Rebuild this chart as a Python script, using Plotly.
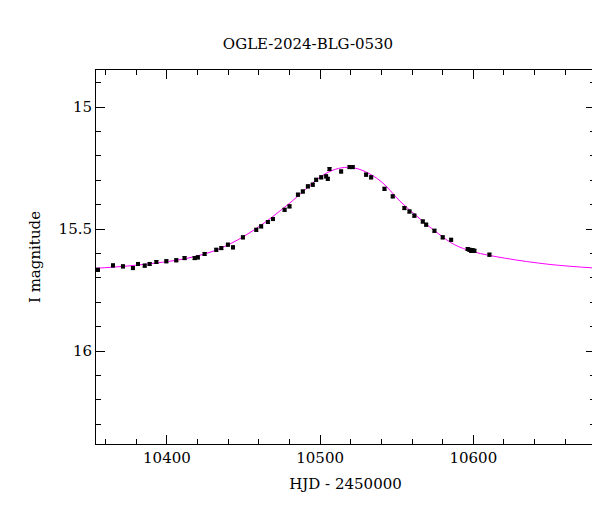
import plotly.graph_objects as go

hjd = [10355.0,10364.8,10371.3,10377.8,10381.1,10385.5,10388.7,10393.1,10399.6,10406.1,10411.5,10418.1,
       10420.2,10424.6,10432.2,10435.5,10439.8,10443.1,10449.6,10458.3,10461.5,10465.9,10469.2,10476.8,
       10480.0,10485.5,10488.7,10492.0,10495.2,10497.4,10500.7,10503.9,10505.0,10506.1,10513.7,10519.2,
       10521.3,10530.0,10533.3,10542.0,10547.4,10555.0,10558.3,10561.5,10567.0,10569.2,10574.6,10580.0,
       10585.5,10596.3,10597.5,10598.5,10599.5,10600.7,10610.5]
mag = [15.667,15.649,15.653,15.660,15.643,15.650,15.643,15.635,15.632,15.628,15.619,15.619,
       15.616,15.602,15.585,15.578,15.564,15.575,15.534,15.503,15.489,15.471,15.459,15.421,
       15.407,15.359,15.346,15.325,15.318,15.298,15.288,15.284,15.294,15.254,15.264,15.246,
       15.246,15.277,15.288,15.335,15.366,15.414,15.428,15.445,15.469,15.482,15.507,15.534,
       15.544,15.582,15.585,15.589,15.587,15.589,15.605]
model_hjd = [10350,10380,10413.7,10435.4,10457,10478.9,10490,10500.6,10510,10518,10527,10539.8,10552,10565.9,10577,10587.7,10600,10620.3,10650,10680]
model_mag = [15.662,15.648,15.619,15.578,15.503,15.40,15.340,15.284,15.255,15.247,15.258,15.305,15.385,15.462,15.518,15.564,15.593,15.619,15.645,15.660]
x_ticks = [10400, 10500, 10600]
y_ticks = [15, 15.5, 16]
y_ticklabels = ["15", "15.5", "16"]

font = "DejaVu Serif"
fig = go.Figure()
fig.add_trace(go.Scatter(x=model_hjd, y=model_mag, mode="lines", line=dict(color="magenta", width=1, shape="spline"), hoverinfo="skip"))
fig.add_trace(go.Scatter(x=hjd, y=mag, mode="markers",
                         marker=dict(symbol="square", size=4, color="black"),
                         error_y=dict(type="constant", value=0.006, color="black", thickness=1, width=2)))
axis_common = dict(showgrid=False, zeroline=False, showline=True, linecolor="black", linewidth=1, mirror="ticks",
                   ticks="inside", ticklen=9, tickcolor="black", automargin=False,
                   tickfont=dict(family=font, size=15, color="black"))
fig.update_xaxes(range=[10353.7, 10679.4], tickvals=x_ticks, ticktext=[str(v) for v in x_ticks],
                 minor=dict(ticks="inside", ticklen=5, dtick=20, tick0=0, tickcolor="black"),
                 title=dict(text="HJD - 2450000", standoff=12, font=dict(family=font, size=15, color="black")), **axis_common)
fig.update_yaxes(range=[16.381, 14.848], tickvals=y_ticks, ticktext=y_ticklabels,
                 minor=dict(ticks="inside", ticklen=5, dtick=0.1, tick0=0, tickcolor="black"),
                 title=dict(text="I magnitude", standoff=14, font=dict(family=font, size=15, color="black")), **axis_common)
fig.update_layout(width=600, height=512, margin=dict(l=88, r=13, t=62, b=76), showlegend=False,
                  plot_bgcolor="white", paper_bgcolor="white",
                  title=dict(text="OGLE-2024-BLG-0530", x=0.5, xanchor="center", y=0.93, yanchor="middle",
                             font=dict(family=font, size=15, color="black")))
fig.write_html("out.html")
